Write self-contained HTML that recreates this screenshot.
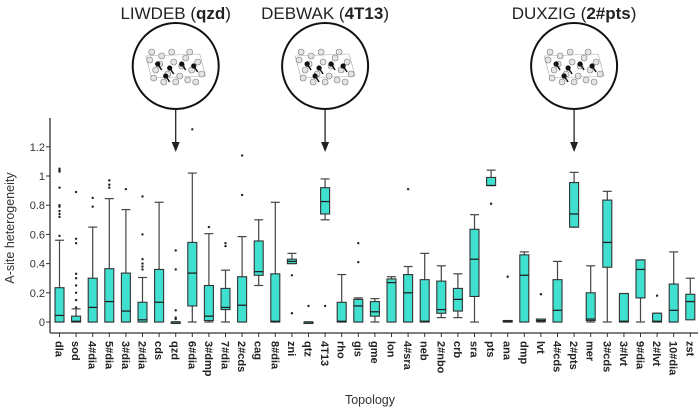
<!DOCTYPE html>
<html><head><meta charset="utf-8"><style>
body{margin:0;background:#fff;font-family:"Liberation Sans",sans-serif}
svg text{font-family:"Liberation Sans",sans-serif}
</style></head><body>
<svg id="c" width="700" height="408" xmlns="http://www.w3.org/2000/svg"></svg>
<script>
const categories=["dla","sod","4#dia","5#dia","3#dia","2#dia","cds","qzd","6#dia","3#dmp","7#dia","2#cds","cag","8#dia","zni","qtz","4T13","rho","gis","gme","lon","4#sra","neb","2#nbo","crb","sra","pts","ana","dmp","lvt","4#cds","2#pts","mer","3#cds","3#lvt","9#dia","2#lvt","10#dia","zst"];
const mins=[0,0,0,0,0,0,0,0,0,0,0,0,0.25,0,0.4,0,0.7,0,0,0,0,0,0,0.03,0.03,0,0.935,0,0,0,0,0.65,0,0,0,0,0,0,0.02];
const q1s=[0,0,0,0,0,0,0,0,0.11,0.01,0.085,0,0.32,0,0.4,0,0.74,0,0,0.04,0,0,0,0.06,0.075,0.175,0.935,0,0,0.005,0,0.65,0.01,0.375,0,0.165,0,0,0.015];
const medians=[0.045,0.005,0.1,0.14,0.075,0.015,0.135,0,0.335,0.04,0.1,0.115,0.345,0.005,0.415,0,0.825,0.005,0.11,0.07,0.27,0.2,0.005,0.085,0.155,0.43,0.935,0.005,0.32,0.01,0.08,0.74,0.02,0.545,0.005,0.36,0.005,0.08,0.14];
const q3s=[0.235,0.04,0.3,0.365,0.335,0.135,0.36,0,0.545,0.25,0.23,0.31,0.555,0.33,0.43,0,0.92,0.135,0.155,0.14,0.295,0.325,0.29,0.28,0.23,0.635,0.99,0.01,0.46,0.02,0.29,0.955,0.2,0.835,0.195,0.425,0.06,0.26,0.19];
const maxs=[0.56,0.09,0.65,0.845,0.77,0.305,0.82,0,1.02,0.605,0.355,0.585,0.7,0.82,0.47,0,0.98,0.325,0.165,0.16,0.31,0.38,0.47,0.385,0.33,0.735,1.04,0.01,0.48,0.02,0.415,1.025,0.385,0.895,0.195,0.425,0.06,0.48,0.3];
const outliers=[[0.59,0.72,0.74,0.76,0.79,0.8,0.92,1.03,1.04,1.05],[0.1,0.15,0.2,0.25,0.3,0.33,0.54,0.57,0.89],[0.79,0.85],[0.92,0.94,0.97],[0.91],[0.36,0.38,0.4,0.43,0.6,0.86],[],[0.02,0.03,0.08,0.36,0.49],[1.32],[0.65],[0.52,0.54],[0.87,1.14],[],[],[0.32,0.06],[0.11],[0.11],[],[0.41,0.54],[],[],[0.91],[],[],[],[],[0.81],[0.31],[],[0.19],[],[],[],[],[],[],[0.18],[],[]];
const yTicks=[0,0.2,0.4,0.6,0.8,1,1.2];
const yTickLabels=["0","0.2","0.4","0.6","0.8","1","1.2"];
const callouts=[["LIWDEB (","qzd",")","qzd"],["DEBWAK (","4T13",")","4T13"],["DUXZIG (","2#pts",")","2#pts"]];

const svg=document.getElementById('c');
const NS="http://www.w3.org/2000/svg";
const X0=59.5,DX=16.6,Y0=322,PPU=146;
const xs=i=>X0+i*DX;
const ys=v=>Y0-v*PPU;
function el(t,a,p){const e=document.createElementNS(NS,t);for(const k in a)e.setAttribute(k,a[k]);(p||svg).appendChild(e);return e;}

const ax=el('line',{x1:50,y1:118,x2:50,y2:333,stroke:'#333','stroke-width':1.3});


const bx=el('line',{x1:50,y1:333,x2:698,y2:333,stroke:'#333','stroke-width':1.3});


yTicks.forEach((v,i)=>{
  el('line',{x1:46,x2:50,y1:ys(v),y2:ys(v),stroke:'#333'});
  const t=el('text',{x:45,y:ys(v)+4,'text-anchor':'end','font-size':11,fill:'#333'});
  t.textContent=yTickLabels[i];
  
  
});
const yt=el('text',{x:0,y:0,transform:'translate(14,228) rotate(-90)','text-anchor':'middle','font-size':12.5,fill:'#333'});
yt.textContent='A-site heterogeneity';


const xt=el('text',{x:370,y:404,'text-anchor':'middle','font-size':12.5,fill:'#333'});
xt.textContent='Topology';



categories.forEach((c,i)=>{
  const x=xs(i);
  el('line',{x1:x,x2:x,y1:333,y2:337,stroke:'#333'});
  const t=el('text',{x:0,y:0,transform:`translate(${x-4},341) rotate(90)`,'font-size':11,'font-weight':'bold',fill:'#222'});
  t.textContent=c;
  
  
  const g=el('g',{});
  
  
  const w=4.5;
  el('line',{x1:x,x2:x,y1:ys(maxs[i]),y2:ys(q3s[i]),stroke:'#444','stroke-width':1.2},g);
  el('line',{x1:x,x2:x,y1:ys(q1s[i]),y2:ys(mins[i]),stroke:'#444','stroke-width':1.2},g);
  el('line',{x1:x-w,x2:x+w,y1:ys(maxs[i]),y2:ys(maxs[i]),stroke:'#444','stroke-width':1.2},g);
  el('line',{x1:x-w,x2:x+w,y1:ys(mins[i]),y2:ys(mins[i]),stroke:'#444','stroke-width':1.2},g);
  const h=Math.max(ys(q1s[i])-ys(q3s[i]),1.5);
  el('rect',{x:x-w,y:ys(q3s[i]),width:2*w,height:h,fill:'#40e0d0',stroke:'#333','stroke-width':1.1},g);
  el('line',{x1:x-w,x2:x+w,y1:ys(medians[i]),y2:ys(medians[i]),stroke:'#222','stroke-width':1.3},g);
  outliers[i].forEach(o=>el('circle',{cx:x,cy:ys(o),r:1.2,fill:'#222'},g));
});

const atomOff=[[-26,-6],[-20,4],[-14,-10],[-8,8],[-2,-4],[4,10],[10,-8],[16,4],[22,-4],[26,8],[-22,12],[-12,16],[0,16],[12,14],[20,16],[-16,-2],[6,0],[-4,-14],[14,-14],[-24,-14]];
const nodeOff=[[-18,-2],[-6,2],[6,-2],[18,0],[-10,10]];
callouts.forEach((co,k)=>{
  const i=categories.indexOf(co[3]);
  const x=xs(i);
  const g=el('g',{});
  
  
  const t=el('text',{x:x,y:19,'text-anchor':'middle','font-size':17,fill:'#222'},g);
  const s1=el('tspan',{},t);s1.textContent=co[0];
  const s2=el('tspan',{'font-weight':'bold'},t);s2.textContent=co[1];
  const s3=el('tspan',{},t);s3.textContent=co[2];
  el('circle',{cx:x,cy:66,r:43,fill:'#fff',stroke:'#111','stroke-width':2},g);
  el('polygon',{points:`${x-30},56 ${x+24},54 ${x+30},76 ${x-24},78`,fill:'none',stroke:'#aaa','stroke-width':0.6},g);
  atomOff.forEach(p=>el('circle',{cx:x+p[0],cy:66+p[1],r:3,fill:'#e4e4e4',stroke:'#777','stroke-width':0.6},g));
  nodeOff.forEach(p=>{
    el('line',{x1:x+p[0],y1:66+p[1],x2:x+p[0]+4,y2:66+p[1]+6,stroke:'#111','stroke-width':1.5},g);
    el('circle',{cx:x+p[0],cy:66+p[1],r:2.6,fill:'#111'},g);
  });
  el('line',{x1:x,x2:x,y1:109,y2:150,stroke:'#222','stroke-width':1.3},g);
  el('polygon',{points:`${x-4},142 ${x+4},142 ${x},152`,fill:'#222'},g);
});
</script>
</body></html>
